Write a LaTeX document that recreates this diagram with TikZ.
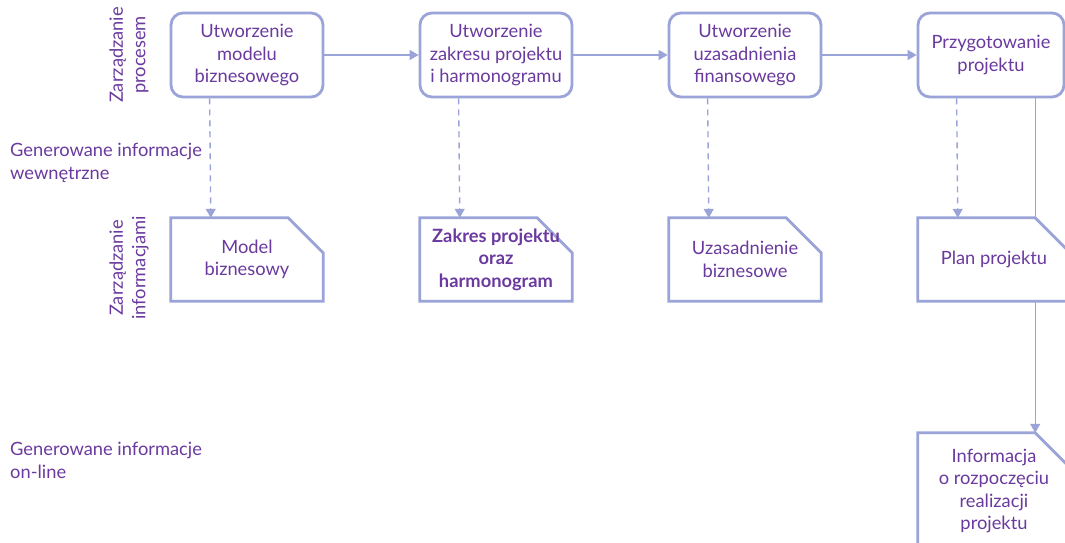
\documentclass[tikz,border=0pt]{standalone}
\usepackage{fontspec}
\setmainfont{Lato}
\usetikzlibrary{arrows.meta}
\definecolor{txt}{HTML}{6A3A9F}
\definecolor{linec}{HTML}{9AA4D8}
\pgfdeclarelayer{conn}
\pgfdeclarelayer{shp}
\pgfsetlayers{conn,shp,main}
% outline of a document box with the top right corner cut off
\newcommand{\docoutline}[1]{%
  \draw[linec, line width=2.8pt, fill=white, line join=miter]
    (#1.north west) -- ([xshift=-35pt]#1.north east) -- ([yshift=-35pt]#1.north east)
    -- (#1.south east) -- (#1.south west) -- cycle;}
\begin{document}
\begin{tikzpicture}[x=1pt, y=-1pt,
  every node/.style={font=\fontsize{18.3}{22.5}\selectfont, text=txt},
  proc/.style={draw=linec, line width=2.8pt, rounded corners=12pt, fill=white,
    minimum width=152pt, minimum height=84pt, align=center, inner sep=0pt},
  docbox/.style={minimum width=152pt, minimum height=83pt, align=center, inner sep=0pt},
  flow/.style={linec, line width=1.4pt, -{Triangle[width=10pt, length=9pt]}},
  dflow/.style={flow, dash pattern=on 6pt off 5pt},
  lane/.style={align=left, anchor=north west, inner sep=0pt},
  vlane/.style={align=center, rotate=90, inner sep=0pt}]
\useasboundingbox (0,0) rectangle (1065,543);
\clip (0,0) rectangle (1065,543);

% lane captions
\node[vlane] (l1) at (129,55) {Zarządzanie\\procesem};
\node[vlane] (l2) at (129,268) {Zarządzanie\\informacjami};
\node[lane] (g1) at (10,143) {Generowane informacje\\wewnętrzne};
\node[lane] (g2) at (10,442) {Generowane informacje\\on-line};

% process steps
\node[proc] (p1) at (247,55) {Utworzenie\\modelu\\biznesowego};
\node[proc] (p2) at (496,55) {Utworzenie\\zakresu projektu\\i harmonogramu};
\node[proc] (p3) at (745,55) {Utworzenie\\uzasadnienia\\finansowego};
\node[proc, minimum width=146pt] (p4) at (991,55) {Przygotowanie\\projektu};

% documents
\node[docbox] (d1) at (247,259.5) {Model\\biznesowy};
\node[docbox, font=\fontsize{18.3}{22.5}\selectfont\bfseries] (d2) at (496,259.5) {Zakres projektu\\oraz\\harmonogram};
\node[docbox] (d3) at (745,259.5) {Uzasadnienie\\biznesowe};
\node[docbox] (d4) at (994,259.5) {Plan projektu};
\node[docbox, minimum height=116pt] (d5) at (994,491) {Informacja\\o rozpoczęciu\\realizacji\\projektu};

\begin{pgfonlayer}{shp}
  \docoutline{d1}
  \docoutline{d2}
  \docoutline{d3}
  \docoutline{d4}
  \docoutline{d5}
\end{pgfonlayer}

\begin{pgfonlayer}{conn}
  \draw[flow] (p1) -- (p2);
  \draw[flow] (p2) -- (p3);
  \draw[flow] (p3) -- (p4);
  \draw[dflow] ([xshift=40pt]p1.south west) -- ([xshift=40pt]d1.north west);
  \draw[dflow] ([xshift=40pt]p2.south west) -- ([xshift=40pt]d2.north west);
  \draw[dflow] ([xshift=40pt]p3.south west) -- ([xshift=40pt]d3.north west);
  \draw[dflow] ([xshift=40pt]p4.south west) -- ([xshift=40pt]d4.north west);
  \coordinate (c5) at ([xshift=-35pt]d5.north east);
  \draw[flow] (p4.south -| c5) -- (c5);
\end{pgfonlayer}
\end{tikzpicture}
\end{document}
